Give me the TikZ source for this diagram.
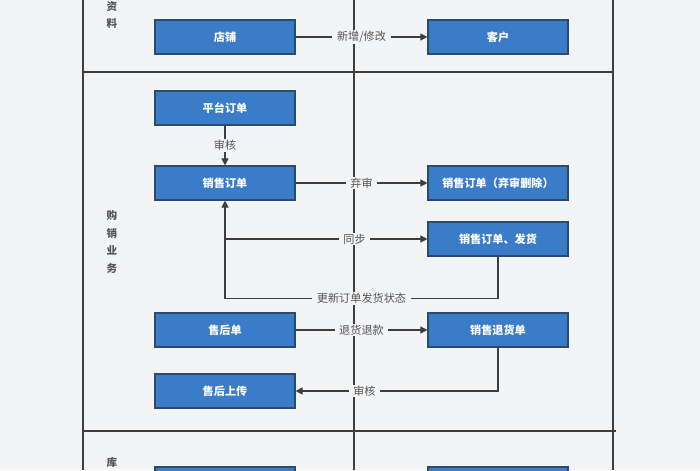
\documentclass[tikz,border=0pt]{standalone}
\usepackage{fontspec}
\setmainfont{Noto Sans CJK SC}
\usetikzlibrary{arrows.meta,positioning,calc}
\definecolor{FlowBlue}{HTML}{3B7CC9}
\definecolor{FlowEdge}{HTML}{2B4A70}
\definecolor{FlowLine}{HTML}{3E3E3E}
\definecolor{FlowText}{HTML}{555555}
\definecolor{FlowPaper}{HTML}{F3F4F6}
\tikzset{
    % Blue step boxes
    process/.style={
        rectangle,
        draw=FlowEdge,
        line width=1pt,
        fill=FlowBlue,
        text=white,
        minimum width=4.2cm,
        minimum height=1.02cm,
        align=center,
        font=\bfseries\fontsize{9.5}{11}\selectfont
    },
    arrow/.style={
        -{Triangle[length=6pt,width=6pt]},
        line width=1pt,
        color=FlowLine
    },
    edge label/.style={
        fill=FlowPaper,
        text=FlowText,
        inner xsep=4pt,
        inner ysep=1pt,
        font=\fontsize{9.5}{11}\selectfont
    },
    lane line/.style={
        line width=1.2pt,
        color=FlowLine
    },
    lane label/.style={
        text=FlowText,
        align=center,
        font=\bfseries\fontsize{9}{15}\selectfont
    }
}

\begin{document}
\begin{tikzpicture}[x=0.03cm, y=-0.03cm]
        \clip (0,0) rectangle (700,470);
        \fill[FlowPaper] (0,0) rectangle (700,470);

        % Swim lanes
        \draw[lane line] (83,0) -- (83,470);
        \draw[lane line] (613,0) -- (613,470);
        \draw[lane line] (83,72) -- (613,72);
        \draw[lane line] (83,431) -- (616,431);
        \draw[lane line] (354,0) -- (354,470);

        \node[lane label] (lanedata) at (112,15) {资\\料};
        \node[lane label] (lanesale) at (112,242) {购\\销\\业\\务};
        \node[lane label] (lanestock) at (112,462) {库};

        % Master data
        \node[process] (shop) at (225,37) {店铺};
        \node[process] (customer) at (498,37) {客户};

        % Sales orders
        \node[process] (platform) at (225,108) {平台订单};
        \node[process] (sorder) at (225,183) {销售订单};
        \node[process] (sdeleted) at (498,183) {销售订单（弃审删除）};
        \node[process] (sship) at (498,239) {销售订单、发货};

        % After sales
        \node[process] (aftersale) at (225,330) {售后单};
        \node[process] (sreturn) at (498,330) {销售退货单};
        \node[process] (upload) at (225,391) {售后上传};

        % Stock (cut off)
        \node[process] (stockleft) at (225,484) {};
        \node[process] (stockright) at (498,484) {};

        % Arrows
        \draw[arrow] (shop) -- node[edge label] {新增/修改} (customer);
        \draw[arrow] (platform) -- node[edge label] {审核} (sorder);
        \draw[arrow] (sorder) -- node[edge label] {弃审} (sdeleted);
        \draw[arrow] (sship.south) -- ++(0,42) -| node[edge label, pos=0.25] {更新订单发货状态} (sorder.south);
        \draw[arrow] (sorder.south |- sship.west) -- node[edge label, pos=0.64] {同步} (sship.west);
        \draw[arrow] (aftersale) -- node[edge label] {退货退款} (sreturn);
        \draw[arrow] (sreturn.south) |- node[edge label, pos=0.83] {审核} (upload.east);
    \end{tikzpicture}
\end{document}
